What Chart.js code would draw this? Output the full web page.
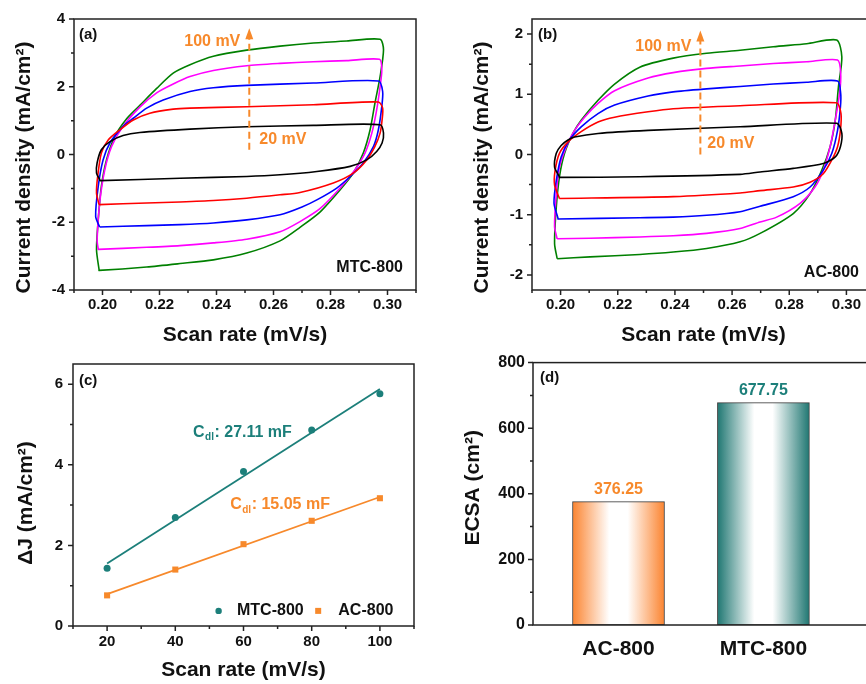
<!DOCTYPE html>
<html>
<head>
<meta charset="utf-8">
<script src="https://cdn.jsdelivr.net/npm/chart.js@4.4.1/dist/chart.umd.min.js"></script>
<style>
  html, body { margin: 0; padding: 0; background: #fff; overflow: hidden; }
  body { width: 866px; height: 684px; position: relative; }
  canvas { position: absolute; }
  #panelA { left: 0; top: 0; }
  #panelB { left: 433px; top: 0; }
  #panelC { left: 0; top: 345px; }
  #panelD { left: 433px; top: 345px; }
</style>
</head>
<body>
<canvas id="panelA" width="433" height="345"></canvas>
<canvas id="panelB" width="460" height="345"></canvas>
<canvas id="panelC" width="433" height="339"></canvas>
<canvas id="panelD" width="460" height="339"></canvas>
<script>
// ---- CV loops, [potential, current density] -------------------------------
const scanLabels = ['20 mV', '40 mV', '60 mV', '80 mV', '100 mV'];
const cvColors = ['#000000', '#ff0000', '#0000ff', '#ff00ff', '#008000'];

// MTC-800
const mtc20 = [[0.1991,-0.75],[0.1979,-0.55],[0.1981,-0.25],[0.1996,0.14],[0.2026,0.38],[0.2072,0.56],[0.2131,0.65],[0.2307,0.75],[0.2506,0.82],[0.274,0.86],[0.2974,0.88],[0.2986,0.63],[0.2981,0.34],[0.2962,0.09],[0.2927,-0.16],[0.2869,-0.35],[0.2752,-0.50],[0.2623,-0.60],[0.2506,-0.65],[0.2272,-0.70],[0.1991,-0.77]];
const mtc40 = [[0.1988,-1.48],[0.1979,-1.14],[0.1983,-0.65],[0.1996,0.04],[0.202,0.43],[0.2061,0.73],[0.2108,1.02],[0.2166,1.22],[0.2248,1.34],[0.2307,1.37],[0.2506,1.41],[0.274,1.47],[0.2968,1.55],[0.2983,1.37],[0.2981,1.02],[0.2974,0.63],[0.2956,0.24],[0.2927,-0.16],[0.288,-0.55],[0.281,-0.84],[0.2693,-1.12],[0.2623,-1.19],[0.2506,-1.29],[0.2389,-1.36],[0.2272,-1.40],[0.2155,-1.43],[0.1988,-1.48]];
const mtc60 = [[0.199,-2.14],[0.1976,-1.83],[0.1985,-0.94],[0.2002,-0.16],[0.2026,0.34],[0.2072,0.83],[0.2108,1.07],[0.2155,1.37],[0.2213,1.61],[0.2307,1.86],[0.2389,1.97],[0.2506,2.04],[0.274,2.11],[0.2968,2.17],[0.2983,1.86],[0.298,1.42],[0.2968,0.73],[0.2951,0.24],[0.2915,-0.25],[0.2869,-0.65],[0.2822,-0.99],[0.2752,-1.34],[0.27,-1.55],[0.2623,-1.78],[0.2506,-1.93],[0.2389,-2.02],[0.2272,-2.07],[0.2155,-2.10],[0.199,-2.14]];
const mtc80 = [[0.1985,-2.79],[0.1981,-2.52],[0.199,-1.43],[0.2008,-0.45],[0.2032,0.24],[0.2072,0.83],[0.2131,1.40],[0.219,1.82],[0.2248,2.08],[0.2307,2.30],[0.2389,2.48],[0.2506,2.62],[0.2623,2.69],[0.274,2.74],[0.2857,2.77],[0.2972,2.81],[0.298,2.5],[0.2974,2.0],[0.2962,1.32],[0.2945,0.63],[0.2921,0.04],[0.2886,-0.45],[0.2834,-0.99],[0.2763,-1.6],[0.2693,-1.98],[0.2623,-2.28],[0.2506,-2.5],[0.2389,-2.61],[0.2272,-2.69],[0.2155,-2.74],[0.1985,-2.80]];
const mtc100 = [[0.1988,-3.40],[0.1979,-2.81],[0.1985,-1.93],[0.1996,-0.94],[0.2014,-0.16],[0.2043,0.53],[0.2084,1.05],[0.2131,1.45],[0.219,1.95],[0.2248,2.40],[0.2307,2.65],[0.2389,2.90],[0.2506,3.08],[0.2623,3.2],[0.274,3.29],[0.2857,3.35],[0.2974,3.40],[0.2986,3.09],[0.2974,2.3],[0.2956,1.52],[0.2939,0.73],[0.2915,0.04],[0.288,-0.55],[0.2834,-1.04],[0.2763,-1.7],[0.2693,-2.15],[0.2623,-2.55],[0.2506,-2.91],[0.2389,-3.11],[0.2272,-3.22],[0.2155,-3.32],[0.1988,-3.42]];

// AC-800
const ac20 = [[0.1996,-0.37],[0.1979,-0.21],[0.1985,0.02],[0.2002,0.15],[0.2026,0.24],[0.2049,0.29],[0.2131,0.35],[0.2306,0.40],[0.2628,0.46],[0.2966,0.52],[0.2984,0.35],[0.2979,0.13],[0.2961,-0.04],[0.2919,-0.15],[0.2814,-0.23],[0.2698,-0.29],[0.2628,-0.33],[0.2277,-0.37],[0.1996,-0.38]];
const ac40 = [[0.1996,-0.73],[0.1979,-0.51],[0.1981,-0.26],[0.1996,0.02],[0.2026,0.21],[0.2072,0.38],[0.2131,0.54],[0.2189,0.62],[0.2306,0.71],[0.2394,0.76],[0.2628,0.81],[0.2964,0.86],[0.2981,0.68],[0.2979,0.40],[0.2969,0.13],[0.2949,-0.09],[0.2919,-0.32],[0.2873,-0.46],[0.2814,-0.54],[0.2698,-0.60],[0.2628,-0.64],[0.2394,-0.70],[0.1996,-0.73]];
const ac60 = [[0.1991,-1.06],[0.1977,-0.81],[0.1985,-0.43],[0.2002,-0.04],[0.2031,0.24],[0.2072,0.46],[0.2131,0.68],[0.2189,0.82],[0.2306,0.97],[0.2394,1.04],[0.2511,1.09],[0.2628,1.13],[0.2744,1.17],[0.2861,1.20],[0.2969,1.22],[0.298,1.01],[0.2979,0.79],[0.2969,0.40],[0.2949,0.02],[0.2919,-0.26],[0.2873,-0.54],[0.2814,-0.70],[0.2698,-0.86],[0.2628,-0.95],[0.2511,-1.01],[0.2394,-1.04],[0.2277,-1.05],[0.1991,-1.07]];
const ac80 = [[0.1988,-1.40],[0.1979,-1.2],[0.1985,-0.65],[0.1996,-0.21],[0.202,0.13],[0.2049,0.40],[0.2084,0.62],[0.2131,0.85],[0.2189,1.06],[0.2306,1.27],[0.2394,1.36],[0.2511,1.43],[0.2628,1.47],[0.2744,1.51],[0.2861,1.54],[0.2969,1.57],[0.298,1.35],[0.2976,1.01],[0.2961,0.57],[0.2943,0.13],[0.2919,-0.26],[0.289,-0.54],[0.2838,-0.81],[0.2756,-1.04],[0.2698,-1.12],[0.2628,-1.23],[0.2511,-1.31],[0.2394,-1.35],[0.2277,-1.37],[0.2103,-1.39],[0.1988,-1.40]];
const ac100 = [[0.1988,-1.73],[0.1979,-1.48],[0.1985,-0.87],[0.1996,-0.37],[0.2014,0.02],[0.2043,0.35],[0.2072,0.57],[0.2131,0.90],[0.2189,1.17],[0.2277,1.45],[0.2394,1.60],[0.2511,1.68],[0.2628,1.73],[0.2744,1.79],[0.2861,1.84],[0.2966,1.90],[0.2984,1.62],[0.2972,1.12],[0.2961,0.57],[0.2943,0.13],[0.2914,-0.26],[0.2873,-0.65],[0.2814,-0.98],[0.2698,-1.31],[0.2628,-1.45],[0.2511,-1.56],[0.2394,-1.62],[0.2277,-1.66],[0.2103,-1.70],[0.1988,-1.73]];

// ---- capacitance fit -------------------------------------------------------
const scanRates = [20, 40, 60, 80, 100];
const mtcDeltaJ = [1.43, 2.69, 3.83, 4.86, 5.76];
const acDeltaJ = [0.76, 1.40, 2.03, 2.61, 3.17];
const fitRates = [20, 100];
const mtcFit = [1.55, 5.88];
const acFit = [0.79, 3.20];
const cdlValues = [27.11, 15.05]; // MTC-800, AC-800

// ---- ECSA bars ---------------------------------------------------------------
const samples = ['AC-800', 'MTC-800'];
const ecsa = [376.25, 677.75];

// ---- tick labels ---------------------------------------------------------------
const potentialTicks = [0.20, 0.22, 0.24, 0.26, 0.28, 0.30];
const mtcCurrentTicks = [-4, -2, 0, 2, 4];
const acCurrentTicks = [-2, -1, 0, 1, 2];
const rateTicks = [20, 40, 60, 80, 100];
const deltaJTicks = [0, 2, 4, 6];
const ecsaTicks = [0, 200, 400, 600, 800];

const FONT = '"Liberation Sans", Arial, Helvetica, sans-serif';
const INK = '#111111';
const TEAL = '#1c7f7a';
const ORANGE = '#f7892b';
const barColors = ['#fb8430', '#1f7772'];

Chart.defaults.font.family = FONT;
Chart.defaults.font.weight = 'bold';
Chart.defaults.color = INK;

function text(ctx, str, x, y, size, color, align) {
  ctx.font = 'bold ' + size + 'px ' + FONT;
  ctx.fillStyle = color;
  ctx.textAlign = align || 'left';
  ctx.textBaseline = 'middle';
  ctx.fillText(str, x, y);
}

function vtext(ctx, str, x, y, size) {
  ctx.save();
  ctx.translate(x, y);
  ctx.rotate(-Math.PI / 2);
  text(ctx, str, 0, 0, size, INK, 'center');
  ctx.restore();
}

function dashedArrow(ctx, x, yFrom, yTip) {
  ctx.save();
  ctx.strokeStyle = ORANGE;
  ctx.fillStyle = ORANGE;
  ctx.lineWidth = 2;
  ctx.setLineDash([7, 4]);
  ctx.beginPath();
  ctx.moveTo(x, yFrom);
  ctx.lineTo(x, yTip + 9);
  ctx.stroke();
  ctx.setLineDash([]);
  ctx.beginPath();
  ctx.moveTo(x, yTip);
  ctx.lineTo(x - 4, yTip + 11);
  ctx.lineTo(x + 4, yTip + 11);
  ctx.closePath();
  ctx.fill();
  ctx.restore();
}

// box frame plus outward major/minor ticks
const frame = {
  id: 'frame',
  afterDraw(chart, args, opts) {
    const { ctx, chartArea: a, scales } = chart;
    ctx.save();
    ctx.strokeStyle = '#222';
    ctx.lineWidth = 1.5;
    ctx.strokeRect(a.left, a.top, a.right - a.left, a.bottom - a.top);
    const marks = (scale, minor, horizontal) => {
      const majors = scale.ticks.map(t => t.value);
      const list = majors.map(v => [v, 5]);
      if (minor) {
        for (let k = Math.ceil(scale.min / minor - 1e-6); k * minor <= scale.max + 1e-9; k++) {
          const v = k * minor;
          if (!majors.some(m => Math.abs(m - v) < minor / 10)) list.push([v, 3]);
        }
      }
      ctx.beginPath();
      list.forEach(([v, len]) => {
        const p = scale.getPixelForValue(v);
        if (horizontal) { ctx.moveTo(p, a.bottom); ctx.lineTo(p, a.bottom + len); }
        else { ctx.moveTo(a.left, p); ctx.lineTo(a.left - len, p); }
      });
      ctx.stroke();
    };
    if (opts.xTicks !== false) marks(scales.x, opts.xMinor, true);
    marks(scales.y, opts.yMinor, false);
    ctx.restore();
  }
};

function linearAxis(min, max, tickValues, size, padding, fit, fmt) {
  return {
    type: 'linear', min, max,
    grid: { display: false, drawTicks: false },
    border: { display: false },
    afterBuildTicks: s => { s.ticks = tickValues.map(value => ({ value })); },
    ticks: {
      padding, autoSkip: false, maxRotation: 0,
      color: INK, font: { size, weight: 'bold' },
      callback: fmt || (v => String(v))
    },
    afterFit: fit
  };
}

function cvLoops(loops) {
  return loops.map((pts, i) => ({
    label: scanLabels[i],
    data: pts.concat([pts[0]]).map(([x, y]) => ({ x, y })),
    showLine: true, fill: false,
    borderColor: cvColors[i], borderWidth: 1.6,
    pointRadius: 0, tension: 0.25
  }));
}

function cvChart(id, loops, yMin, yMax, yTicks, yMinor, yWidth, padRight, notes) {
  return new Chart(document.getElementById(id), {
    type: 'scatter',
    data: { datasets: cvLoops(loops) },
    options: {
      responsive: false, animation: false,
      layout: { padding: { left: 0, top: 19, right: padRight, bottom: 0 } },
      plugins: { legend: { display: false }, tooltip: { enabled: false }, frame: { xMinor: 0.01, yMinor } },
      scales: {
        x: linearAxis(0.19, 0.31, potentialTicks, 15, 6, s => { s.height = 55; }, v => v.toFixed(2)),
        y: linearAxis(yMin, yMax, yTicks, 15, 9, s => { s.width = yWidth; })
      }
    },
    plugins: [frame, { id: 'notes', afterDraw: notes }]
  });
}

// (a) MTC-800 CV curves
cvChart('panelA', [mtc20, mtc40, mtc60, mtc80, mtc100], -4, 4, mtcCurrentTicks, 1, 74, 17, chart => {
  const { ctx, chartArea: a, scales: { x, y } } = chart;
  const ax = x.getPixelForValue(0.2515);
  dashedArrow(ctx, ax, y.getPixelForValue(0.14), y.getPixelForValue(3.73));
  text(ctx, '100 mV', ax - 9, y.getPixelForValue(3.33), 16, ORANGE, 'right');
  text(ctx, '20 mV', ax + 10, y.getPixelForValue(0.43), 16, ORANGE);
  text(ctx, '(a)', a.left + 5, a.top + 16, 15, INK);
  text(ctx, 'MTC-800', a.right - 13, a.bottom - 22, 16, INK, 'right');
  text(ctx, 'Scan rate (mV/s)', (a.left + a.right) / 2, a.bottom + 45, 21, INK, 'center');
  vtext(ctx, 'Current density (mA/cm²)', a.left - 50, (a.top + a.bottom) / 2 + 13, 21);
});

// (b) AC-800 CV curves
cvChart('panelB', [ac20, ac40, ac60, ac80, ac100], -2.25, 2.25, acCurrentTicks, 0.5, 99, 18, chart => {
  const { ctx, chartArea: a, scales: { x, y } } = chart;
  const ax = x.getPixelForValue(0.2489);
  dashedArrow(ctx, ax, y.getPixelForValue(0.0), y.getPixelForValue(2.06));
  text(ctx, '100 mV', ax - 9, y.getPixelForValue(1.8), 16, ORANGE, 'right');
  text(ctx, '20 mV', ax + 7, y.getPixelForValue(0.18), 16, ORANGE);
  text(ctx, '(b)', a.left + 6, a.top + 16, 15, INK);
  text(ctx, 'AC-800', a.right - 16, a.bottom - 17, 16, INK, 'right');
  text(ctx, 'Scan rate (mV/s)', (a.left + a.right) / 2, a.bottom + 45, 21, INK, 'center');
  vtext(ctx, 'Current density (mA/cm²)', a.left - 50, (a.top + a.bottom) / 2 + 13, 21);
});

// (c) ΔJ versus scan rate with linear fits
function cdlLabel(ctx, x, y, value, color) {
  text(ctx, 'C', x, y, 16, color);
  let w = ctx.measureText('C').width;
  text(ctx, 'dl', x + w + 0.5, y + 5, 10, color);
  w += ctx.measureText('dl').width + 1;
  text(ctx, ': ' + value.toFixed(2) + ' mF', x + w, y, 16, color);
}

new Chart(document.getElementById('panelC'), {
  type: 'scatter',
  data: {
    datasets: [
      { label: 'MTC-800 fit', data: fitRates.map((r, i) => ({ x: r, y: mtcFit[i] })), showLine: true, borderColor: TEAL, borderWidth: 1.8, pointRadius: 0 },
      { label: 'AC-800 fit', data: fitRates.map((r, i) => ({ x: r, y: acFit[i] })), showLine: true, borderColor: ORANGE, borderWidth: 1.8, pointRadius: 0 },
      { label: 'MTC-800', data: scanRates.map((r, i) => ({ x: r, y: mtcDeltaJ[i] })), pointStyle: 'circle', pointRadius: 3.5, backgroundColor: TEAL, borderWidth: 0 },
      { label: 'AC-800', data: scanRates.map((r, i) => ({ x: r, y: acDeltaJ[i] })), pointStyle: 'rect', pointRadius: 4.3, backgroundColor: ORANGE, borderWidth: 0 }
    ]
  },
  options: {
    responsive: false, animation: false,
    layout: { padding: { left: 0, top: 8, right: 19, bottom: 0 } },
    plugins: { legend: { display: false }, tooltip: { enabled: false }, frame: { xMinor: 10, yMinor: 1 } },
    scales: {
      x: linearAxis(10, 110, rateTicks, 15, 7, s => { s.height = 58; }),
      y: linearAxis(0, 6.5, deltaJTicks, 15, 10, s => { s.width = 73; })
    }
  },
  plugins: [frame, {
    id: 'notes',
    afterDraw(chart) {
      const { ctx, chartArea: a, scales: { x, y } } = chart;
      text(ctx, '(c)', a.left + 6, a.top + 17, 15, INK);
      cdlLabel(ctx, x.getPixelForValue(45.2), y.getPixelForValue(4.8), cdlValues[0], TEAL);
      cdlLabel(ctx, x.getPixelForValue(56.1), y.getPixelForValue(3.0), cdlValues[1], ORANGE);
      const ly = y.getPixelForValue(0.375);
      ctx.fillStyle = TEAL;
      ctx.beginPath();
      ctx.arc(x.getPixelForValue(52.7), ly, 3.2, 0, Math.PI * 2);
      ctx.fill();
      text(ctx, 'MTC-800', x.getPixelForValue(58.1), ly, 16, INK);
      ctx.fillStyle = ORANGE;
      ctx.fillRect(x.getPixelForValue(81.9) - 3, ly - 3, 6, 6);
      text(ctx, 'AC-800', x.getPixelForValue(87.8), ly, 16, INK);
      text(ctx, 'Scan rate (mV/s)', (a.left + a.right) / 2, a.bottom + 44, 21, INK, 'center');
      vtext(ctx, 'ΔJ (mA/cm²)', a.left - 47, (a.top + a.bottom) / 2 + 8, 21);
    }
  }]
});

// (d) ECSA bars with a white-centred gradient
const BAR_W = 92;
function barFill(c) {
  const chart = c.chart;
  const col = barColors[c.dataIndex] || barColors[0];
  if (!chart.chartArea || c.dataIndex === undefined) return col;
  const cx = chart.scales.x.getPixelForValue(c.dataIndex + 1);
  const g = chart.ctx.createLinearGradient(cx - BAR_W / 2, 0, cx + BAR_W / 2, 0);
  g.addColorStop(0, col);
  g.addColorStop(0.4, '#ffffff');
  g.addColorStop(0.6, '#ffffff');
  g.addColorStop(1, col);
  return g;
}

new Chart(document.getElementById('panelD'), {
  type: 'bar',
  data: {
    datasets: [{
      label: 'ECSA',
      data: ecsa.map((v, i) => ({ x: i + 1, y: v })),
      backgroundColor: barFill,
      borderColor: '#3a3a3a', borderWidth: 1, borderSkipped: false,
      barThickness: BAR_W
    }]
  },
  options: {
    responsive: false, animation: false,
    layout: { padding: { left: 0, top: 9, right: 18, bottom: 0 } },
    plugins: { legend: { display: false }, tooltip: { enabled: false }, frame: { xTicks: false, yMinor: 100 } },
    scales: {
      x: {
        type: 'linear', min: 0.41, max: 2.77, offset: false,
        grid: { display: false, drawTicks: false }, border: { display: false },
        afterBuildTicks: s => { s.ticks = samples.map((n, i) => ({ value: i + 1 })); },
        ticks: { padding: 12, autoSkip: false, maxRotation: 0, color: INK, font: { size: 21, weight: 'bold' }, callback: v => samples[v - 1] },
        afterFit: s => { s.height = 59; }
      },
      y: linearAxis(0, 800, ecsaTicks, 16, 8, s => { s.width = 100; })
    }
  },
  plugins: [frame, {
    id: 'notes',
    afterDraw(chart) {
      const { ctx, chartArea: a, scales: { x, y } } = chart;
      text(ctx, '(d)', a.left + 7, a.top + 15, 15, INK);
      ecsa.forEach((v, i) => {
        text(ctx, v.toFixed(2), x.getPixelForValue(i + 1), y.getPixelForValue(v) - 12, 16, i === 0 ? ORANGE : TEAL, 'center');
      });
      vtext(ctx, 'ECSA (cm²)', a.left - 60, (a.top + a.bottom) / 2 - 6, 21);
    }
  }]
});
</script>
</body>
</html>
